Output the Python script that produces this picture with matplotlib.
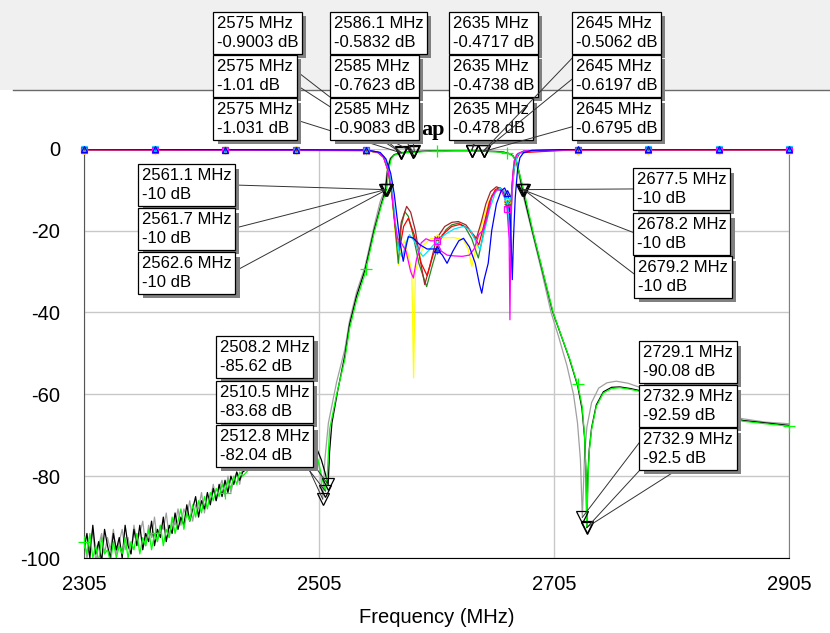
import numpy as np
import matplotlib
matplotlib.use('Agg')
import matplotlib.pyplot as plt
from matplotlib.patches import Rectangle
from matplotlib.lines import Line2D
import matplotlib.patheffects as pe

plt.rcParams['font.family'] = ['Liberation Sans', 'DejaVu Sans']
plt.rcParams['axes.unicode_minus'] = False

# sweep grid of the noisy stop band (2305 .. 2440 MHz)
noise_f = np.linspace(2305, 2440, 55)
green_noise = [-96, -99, -94, -100, -97, -101, -95, -99, -98, -101, -96,
               -100, -97, -99, -95, -100, -96, -98, -94, -99, -95, -97,
               -93, -98, -94, -96, -92, -97, -93, -95, -90, -94, -91,
               -88, -93, -89, -91, -87, -90, -86, -89, -85, -88, -84,
               -86, -83, -85, -82, -84, -81, -83, -80, -82, -79, -80]
black_noise = [-98, -94, -100, -92, -99, -96, -101, -93, -97, -100, -94,
               -98, -95, -100, -92, -97, -99, -93, -97, -92, -98, -94,
               -96, -91, -97, -93, -95, -90, -96, -92, -94, -89, -93,
               -90, -92, -87, -91, -88, -85, -90, -86, -88, -84, -87,
               -83, -86, -82, -85, -81, -84, -80, -82, -79, -81, -79]
gray_noise = [-95, -100, -97, -93, -101, -97, -94, -99, -95, -98, -93,
              -99, -96, -93, -98, -95, -99, -92, -96, -94, -91, -97,
              -92, -95, -90, -96, -92, -93, -89, -95, -91, -92, -88,
              -92, -88, -90, -86, -91, -87, -88, -84, -89, -85, -86,
              -82, -86, -83, -81, -85, -80, -84, -81, -79, -82, -78]

# S21 traces (rest of the sweep)
green_f = [2445, 2455, 2468, 2482, 2494, 2501, 2505, 2508, 2510.5, 2512, 2514, 2520, 2527, 2531, 2537,
           2544, 2552, 2558, 2562.6, 2564.5, 2566.5, 2569, 2575, 2585, 2600, 2620, 2635, 2645, 2655,
           2662, 2667, 2670, 2673, 2676, 2679.2, 2687.4, 2695.9, 2704.4, 2711, 2718.6, 2725.7, 2729,
           2731, 2732.3, 2732.9, 2734, 2735, 2737, 2741, 2747, 2754, 2761, 2770, 2778, 2790, 2810,
           2830, 2850, 2866, 2885, 2905]
green_db = [-78.5, -76, -74, -72, -71.5, -73, -77, -81, -83.68, -80, -68.6, -60, -51.5, -44, -37,
            -30.7, -20.5, -14, -10, -5, -2.5, -1.6, -1.031, -0.9083, -0.6, -0.5, -0.478, -0.6795, -0.75,
            -0.9, -1.3, -1.8, -3, -6.5, -10, -20.6, -30.4, -40.1, -45.5, -51.5, -58.2, -63,
            -70, -80, -92.5, -80, -74, -68.6, -63, -59.7, -58.6, -58.4, -58.8, -59.3, -60.5, -62.5,
            -64, -65.6, -66.6, -67.2, -67.8]
black_f = [2445, 2455, 2468, 2482, 2494, 2502, 2507, 2510, 2512.8, 2514, 2516, 2521, 2527, 2531, 2537,
           2544, 2552, 2558, 2561.7, 2563.5, 2566, 2569, 2575, 2585, 2600, 2620, 2635, 2645, 2655,
           2662, 2667, 2670, 2673, 2675.5, 2678.2, 2686.8, 2695.3, 2703.8, 2710.5, 2718, 2725.2, 2728.8,
           2731, 2732.3, 2732.9, 2733.8, 2735, 2737, 2741, 2747, 2754, 2761, 2770, 2778, 2790, 2810,
           2830, 2850, 2866, 2885, 2905]
black_db = [-78, -75.5, -73.5, -71.5, -71, -72.5, -76, -79, -82.04, -74, -67, -59, -50.5, -43, -36,
            -29.8, -19.8, -13.5, -10, -5, -2.4, -1.5, -1.01, -0.7623, -0.55, -0.48, -0.4738, -0.6197, -0.7,
            -0.85, -1.2, -1.7, -3, -6, -10, -20.3, -30, -39.8, -45.2, -51.2, -58, -63.5,
            -70.5, -80, -92.59, -80, -73.5, -68.2, -62.6, -59.4, -58.3, -58.2, -58.6, -59.1, -60.3, -62.3,
            -63.9, -65.4, -66.4, -67, -67.6]
gray_f = [2445, 2455, 2468, 2482, 2493, 2500, 2504, 2506.5, 2508.2, 2510, 2513, 2520, 2527, 2531, 2537,
          2544, 2552, 2557, 2561.1, 2563, 2565.5, 2569, 2575, 2586.1, 2600, 2620, 2635, 2645, 2655,
          2662, 2667, 2670, 2672.5, 2675, 2677.5, 2686, 2694.5, 2702.5, 2709, 2716, 2721.6, 2725,
          2727.5, 2729.1, 2731, 2733, 2737, 2743, 2750, 2758, 2768, 2778, 2790, 2810, 2830, 2850,
          2866, 2885, 2905]
gray_db = [-77, -75, -73, -71, -70.5, -72, -76, -80, -85.62, -76, -67, -57, -49, -42, -35,
           -29, -18.8, -13, -10, -5, -2.4, -1.4, -0.9003, -0.5832, -0.5, -0.45, -0.4717, -0.5062, -0.6,
           -0.8, -1.2, -1.8, -3.2, -6, -10, -20, -30, -40, -46, -53, -60, -67,
           -76, -90.08, -75, -68, -62, -58.5, -57.2, -56.8, -57.3, -58.3, -59.7, -61.8, -63.5, -65,
           -66, -66.8, -67.2]

# S11 traces
yellow_f = [2305, 2545, 2555, 2560, 2564, 2567, 2570, 2572.6, 2575, 2578, 2581, 2584, 2585.5, 2587, 2590,
            2594, 2600, 2610, 2620, 2628, 2632, 2635, 2638, 2641, 2645, 2650, 2655, 2659, 2663, 2666,
            2668, 2669.5, 2671.5, 2675, 2680, 2905]
yellow_db = [-0.3, -0.45, -1, -2.3, -6, -12, -21, -28.5, -24, -22.5, -26, -30, -56, -30, -27,
             -23.5, -22, -21.8, -21.7, -22.3, -24.5, -28.8, -25, -21, -17, -12.5, -10.2, -10, -11, -14,
             -19, -9, -3.5, -1.2, -0.5, -0.3]
dkgreen_f = [2305, 2545, 2555, 2560, 2564, 2567, 2570, 2572.5, 2575, 2578, 2581, 2585, 2590, 2596.6, 2601,
             2607, 2613, 2618, 2623.6, 2629, 2635, 2640.6, 2644, 2648, 2652, 2657.5, 2661, 2664, 2666,
             2667.5, 2669, 2671, 2674, 2680, 2720, 2905]
dkgreen_db = [-0.3, -0.45, -0.9, -2, -5.5, -11, -20, -28, -19, -15.4, -16.5, -21, -28, -33.7, -29,
              -23, -19.8, -18.6, -18.2, -19, -22, -26.7, -22, -16, -11.5, -9.6, -10.2, -12, -15,
              -20, -10, -4, -1.4, -0.5, -0.3, -0.3]
brown_f = [2305, 2545, 2555, 2560, 2564, 2567, 2570, 2572.5, 2575, 2579.6, 2583, 2587, 2591, 2595, 2599,
           2605, 2612, 2618, 2623.6, 2630, 2635, 2639, 2643, 2647, 2651, 2656, 2660, 2663, 2665.5,
           2667, 2668.5, 2670.5, 2673, 2680, 2720, 2905]
brown_db = [-0.3, -0.45, -0.9, -2, -5.5, -11, -19, -24, -18, -14.1, -15.5, -20, -27, -33.2, -29,
            -22, -19, -18, -17.8, -18.6, -20.5, -21.9, -18, -13.5, -10.5, -9.3, -9.8, -11, -14,
            -19, -12, -5, -1.5, -0.5, -0.3, -0.3]
red_f = [2305, 2545, 2555, 2560, 2564, 2567, 2571, 2574, 2577, 2581, 2586, 2592, 2597, 2602, 2610,
         2618, 2625, 2632, 2638, 2641, 2645, 2650, 2655, 2659, 2663, 2666, 2668, 2670, 2672, 2676,
         2720, 2905]
red_db = [-0.2, -0.35, -0.8, -1.9, -5, -10.5, -22, -24, -19, -17, -21, -28, -31, -26, -21,
          -19, -18.5, -19.5, -22, -23.5, -19, -13, -10, -9.5, -10.5, -13.5, -17, -8, -3, -1,
          -0.3, -0.2]
cyan_f = [2305, 2545, 2556, 2561, 2565, 2568, 2570.5, 2573, 2576, 2579, 2582, 2586, 2590, 2593.5, 2598,
          2604, 2612, 2620, 2628, 2634, 2639, 2642, 2646, 2650, 2655, 2659, 2663, 2666, 2667.5, 2669,
          2671, 2674, 2680, 2720, 2905]
cyan_db = [-0.15, -0.3, -0.9, -2.3, -6, -12, -19, -25, -26.5, -23, -21, -22.5, -25, -26.3, -25,
           -23, -21, -19.6, -19, -20, -23, -24.7, -20, -15, -10.8, -9.6, -10.5, -14, -24, -12,
           -5, -1.5, -0.5, -0.2, -0.15]
magenta_f = [2305, 2545, 2555, 2560, 2564, 2567, 2569.5, 2572, 2575, 2579, 2583, 2585.3, 2588, 2592, 2596,
             2600, 2605, 2609, 2614, 2620, 2627, 2633, 2637, 2641, 2645, 2648, 2652, 2656, 2660, 2663,
             2665, 2666.8, 2667.5, 2668.3, 2669.5, 2671, 2674, 2680, 2720, 2905]
magenta_db = [-0.25, -0.4, -0.9, -2.2, -5.5, -11, -18, -22, -23, -25, -30, -31.6, -27, -23, -22,
              -22.5, -22.5, -25, -26, -26.2, -26.3, -26, -24.5, -21, -19.8, -17, -12, -10, -10.2, -12,
              -14.7, -22, -41.8, -20, -8, -3, -1.2, -0.5, -0.3, -0.25]
blue_f = [2305, 2545, 2557, 2562, 2566, 2569, 2571.5, 2574, 2576.7, 2579, 2581, 2585, 2591, 2597, 2605,
          2610, 2614, 2619, 2624, 2628, 2633, 2638, 2641.5, 2643.5, 2645.5, 2649, 2652, 2656, 2660,
          2663, 2666, 2668, 2669.5, 2670.5, 2672, 2674, 2676, 2679, 2686, 2720, 2905]
blue_db = [-0.1, -0.3, -0.9, -2.5, -6, -11, -17, -23, -27.5, -24, -21.5, -21.8, -23.5, -24.5, -24.5,
           -26, -28, -25, -22.5, -21.9, -24, -28, -33, -35.3, -32, -28, -20, -13.5, -10.3,
           -9.6, -11.5, -18, -32, -22, -12, -5, -2.2, -1, -0.4, -0.15, -0.1]

# trace symbols every 60 MHz
symbol_f = [2305, 2365, 2425, 2485, 2545, 2605, 2665, 2725, 2785, 2845, 2905]

# marker readouts
marker_f = [2575, 2575, 2575, 2586.1, 2585, 2585, 2635, 2635, 2635, 2645, 2645, 2645,
            2561.1, 2561.7, 2562.6, 2677.5, 2678.2, 2679.2,
            2508.2, 2510.5, 2512.8, 2729.1, 2732.9, 2732.9]
marker_db = [-0.9003, -1.01, -1.031, -0.5832, -0.7623, -0.9083, -0.4717, -0.4738, -0.478,
             -0.5062, -0.6197, -0.6795,
             -10, -10, -10, -10, -10, -10,
             -85.62, -83.68, -82.04, -90.08, -92.59, -92.5]

# box top-left corner (image pixels) and leader start on the box
box_xy = [(213, 12), (213, 55), (213, 98), (330, 12), (330, 55), (330, 98),
          (449, 12), (449, 55), (449, 98), (572, 12), (572, 55), (572, 98),
          (138, 164), (138, 208), (138, 252), (633, 168), (633, 213), (634, 256),
          (216, 336), (216, 381), (216, 425), (639, 341), (639, 385), (639, 428)]
box_rel = [(0.64, 0), (1, 0.3), (1, 0.5), (0.76, 0), (0.5, 0), (0.6, 0),
           (0.55, 0), (0.5, 0), (0.3, 0), (0.05, 0), (0, 0.5), (0, 0.3),
           (1, 0.5), (1, 0.5), (1, 0.5), (0, 0.5), (0, 0.5), (0, 0.5),
           (0.5, 0), (0.55, 0), (1, 0.1), (0.5, 0), (0.45, 0), (0.45, 0)]

W, H = 830, 633
fig = plt.figure(figsize=(W / 100, H / 100), dpi=100)
fig.patch.set_facecolor('white')
fig.add_artist(Rectangle((0, 1 - 90 / H), 1, 90 / H, transform=fig.transFigure,
                         facecolor='#f0f0f0', edgecolor='none', zorder=-10))
fig.add_artist(Line2D([13 / W, 1], [1 - 90 / H, 1 - 90 / H], transform=fig.transFigure,
                      color='#6a6a6a', lw=1, zorder=-9))

ax = fig.add_axes([84 / W, 1 - 558 / H, (789 - 84) / W, (558 - 148.7) / H])
ax.set_xlim(2305, 2905)
ax.set_ylim(-100, 0)

lw = 0.9
ax.plot(np.concatenate([noise_f, gray_f]), gray_noise + gray_db, color='#a0a0a0', lw=lw)
ax.plot(np.concatenate([noise_f, black_f]), black_noise + black_db, color='black', lw=lw)
ax.plot(np.concatenate([noise_f, green_f]), green_noise + green_db, color='#00ff00', lw=lw)

s11 = [(yellow_f, yellow_db, '#ffff00', 'd'),
       (dkgreen_f, dkgreen_db, '#228b22', '+'),
       (brown_f, brown_db, '#a02828', 'x'),
       (red_f, red_db, '#ff0000', None),
       (cyan_f, cyan_db, '#00e5ff', 'v'),
       (magenta_f, magenta_db, '#ff00ff', 's'),
       (blue_f, blue_db, '#0000ff', '^')]
for f, d, c, m in s11:
    ax.plot(f, d, color=c, lw=lw)
for f, d, c, m in s11:
    if m is not None:
        ax.plot(symbol_f, np.interp(symbol_f, f, d), ls='none', marker=m, ms=4.5,
                mfc='none', mec=c, mew=0.9, clip_on=False, zorder=4)

gx = np.concatenate([noise_f, green_f])
gy = np.array(green_noise + green_db)
ax.plot(symbol_f, np.interp(symbol_f, gx, gy), ls='none', marker='+', ms=9,
        mec='#00ff00', mew=0.9, clip_on=False, zorder=4)

ax.plot(marker_f, marker_db, ls='none', marker='v', ms=8, mfc='none', mec='black',
        mew=0.9, clip_on=False, zorder=5)

for i in range(len(marker_f)):
    x0, y0 = box_xy[i]
    txt = f"{marker_f[i]:g} MHz\n{marker_db[i]:g} dB"
    a = ax.annotate(txt, xy=(marker_f[i], marker_db[i]), xycoords='data',
                    xytext=(x0 + 4, H - y0 - 4), textcoords='figure pixels',
                    ha='left', va='top', fontsize=12, linespacing=1.32,
                    bbox=dict(boxstyle='square,pad=0.22', fc='white', ec='black', lw=0.9),
                    arrowprops=dict(arrowstyle='-', color='#333333', lw=0.7,
                                    relpos=box_rel[i], shrinkA=0, shrinkB=0),
                    annotation_clip=False, zorder=6)
    a.get_bbox_patch().set_path_effects([
        pe.SimplePatchShadow(offset=(3, -3), shadow_rgbFace='#808080', alpha=1.0),
        pe.Normal()])

# the only visible part of the graph title, between the marker boxes
ax.text(421 / W, 1 - 135 / H, 'ap', transform=fig.transFigure, fontsize=16,
        fontweight='bold', family='Liberation Serif', ha='left', va='baseline', zorder=1)

ax.set_xticks([2305, 2505, 2705, 2905])
ax.set_yticks([0, -20, -40, -60, -80, -100])
ax.grid(True, color='#c8c8c8', lw=1)
ax.set_axisbelow(True)
ax.tick_params(axis='both', length=0, labelsize=14.5)
ax.tick_params(axis='x', pad=12)
ax.tick_params(axis='y', pad=17)
ax.set_xlabel('Frequency (MHz)', fontsize=14.5, labelpad=10)

ax.spines['top'].set_visible(False)
ax.spines['left'].set_color('#555555')
ax.spines['right'].set_color('#808080')
ax.spines['bottom'].set_color('black')

fig.savefig('out.png', dpi=100)
